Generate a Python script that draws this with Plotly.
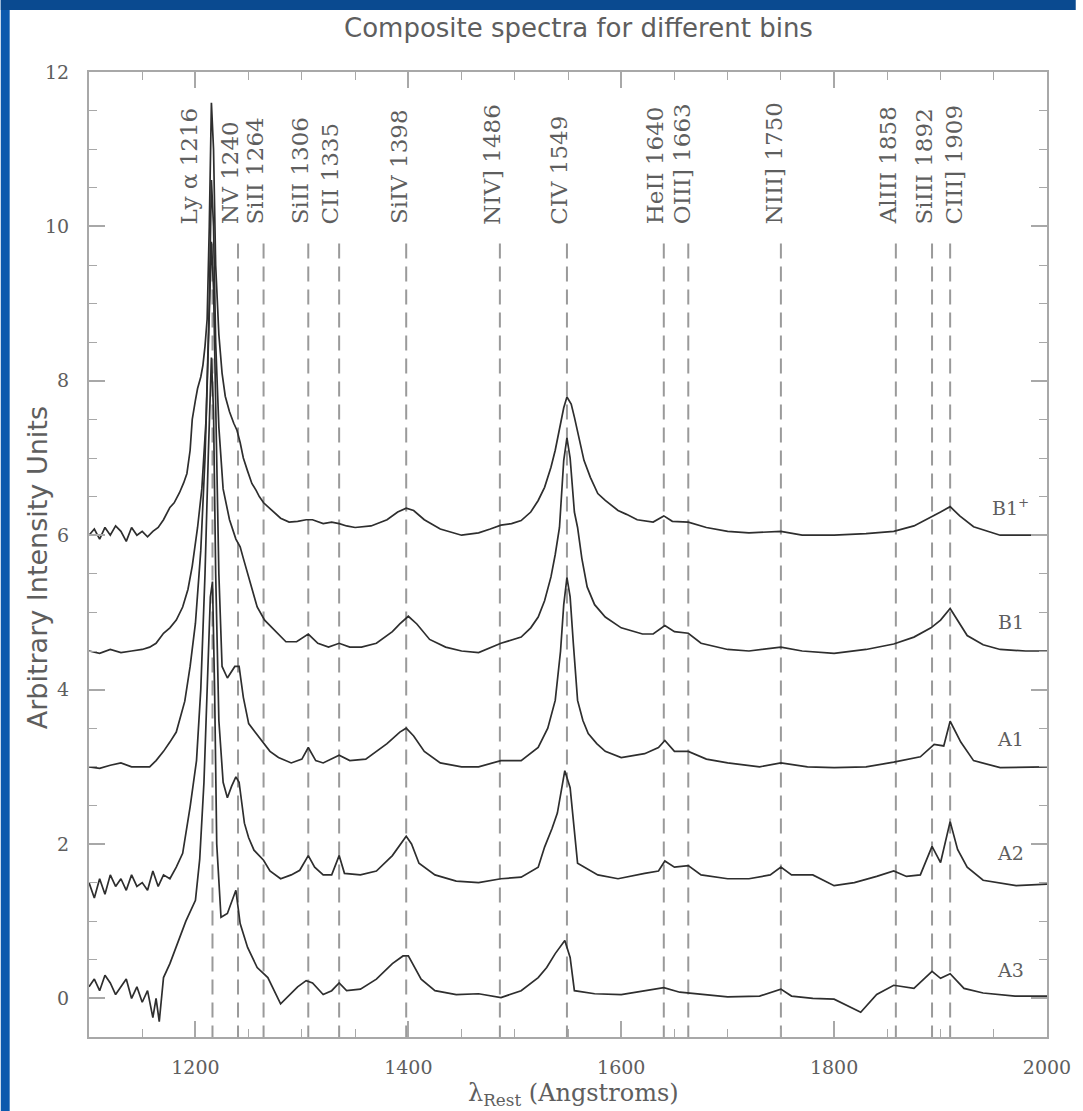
import plotly.graph_objects as go

# ---------------- data ----------------
# wavelength / intensity samples for each composite spectrum
b1p_wl = [1100,1105,1110,1115,1120,1125,1130,1135,1140,1145,1150,1155,1160,1165,1170,1176,1180,1185,1189,1192,1195,1197,1200,1202,1205,1207,1209,1211,1213,1215,1217,1219,1222,1225,1228,1232,1236,1239,1242,1245,1249,1253,1257,1260,1264,1269,1274,1280,1288,1296,1304,1310,1320,1328,1335,1342,1350,1365,1380,1390,1398,1405,1415,1430,1450,1466,1477,1487,1497,1506,1515,1522,1528,1534,1538,1542,1546,1549,1553,1556,1560,1565,1571,1578,1585,1590,1597,1605,1615,1630,1640,1648,1663,1680,1700,1720,1750,1770,1800,1830,1856,1875,1891,1900,1909,1918,1931,1945,1956,1980,2000]
b1p_v  = [6.0,6.08,5.95,6.1,6.0,6.12,6.05,5.92,6.1,6.0,6.05,5.98,6.05,6.1,6.2,6.36,6.42,6.55,6.68,6.8,7.1,7.5,7.75,7.9,8.05,8.2,8.45,8.8,10.0,11.6,11.0,9.5,8.6,8.1,7.8,7.6,7.45,7.36,7.2,7.0,6.83,6.67,6.58,6.5,6.42,6.36,6.3,6.22,6.17,6.18,6.2,6.2,6.15,6.17,6.15,6.12,6.1,6.12,6.2,6.3,6.35,6.32,6.2,6.08,6.0,6.03,6.08,6.13,6.15,6.19,6.3,6.45,6.62,6.88,7.1,7.4,7.65,7.79,7.7,7.53,7.3,6.97,6.75,6.54,6.45,6.4,6.32,6.27,6.2,6.17,6.25,6.18,6.17,6.1,6.05,6.03,6.05,6.0,6.0,6.02,6.05,6.12,6.23,6.3,6.37,6.25,6.11,6.05,6.0,6.0,6.0]

b1_wl = [1100,1110,1120,1130,1140,1150,1157,1163,1170,1176,1182,1188,1193,1197,1202,1206,1210,1213,1215,1217,1219,1222,1226,1232,1238,1242,1245,1249,1253,1258,1265,1274,1285,1295,1306,1315,1325,1335,1345,1356,1370,1385,1392,1400,1408,1420,1435,1450,1466,1487,1506,1515,1522,1528,1534,1538,1542,1546,1549,1552,1556,1559,1563,1568,1575,1585,1600,1620,1630,1641,1650,1663,1675,1700,1720,1750,1770,1800,1830,1856,1875,1891,1900,1909,1917,1925,1940,1956,1980,2000]
b1_v  = [4.5,4.47,4.52,4.48,4.5,4.52,4.55,4.6,4.73,4.8,4.9,5.07,5.3,5.6,6.1,6.6,7.5,9.0,10.6,10.0,8.5,7.4,6.6,6.2,5.95,5.85,5.7,5.5,5.3,5.07,4.9,4.77,4.62,4.62,4.72,4.6,4.55,4.6,4.55,4.55,4.6,4.75,4.85,4.95,4.85,4.65,4.55,4.5,4.48,4.6,4.68,4.8,4.94,5.15,5.46,5.75,6.1,6.97,7.26,7.0,6.3,6.1,5.7,5.33,5.1,4.94,4.8,4.72,4.72,4.83,4.75,4.73,4.6,4.52,4.5,4.55,4.5,4.47,4.52,4.59,4.68,4.8,4.9,5.05,4.88,4.7,4.58,4.52,4.5,4.5]

a1_wl = [1100,1110,1120,1130,1140,1150,1157,1163,1170,1176,1182,1190,1195,1200,1205,1209,1212,1215,1217,1219,1222,1225,1230,1237,1241,1245,1250,1256,1262,1270,1278,1290,1300,1306,1313,1320,1335,1345,1360,1380,1392,1398,1405,1415,1430,1450,1466,1487,1506,1522,1531,1538,1543,1546,1549,1552,1555,1559,1564,1569,1577,1585,1600,1622,1635,1641,1650,1663,1680,1700,1730,1750,1775,1800,1830,1856,1881,1894,1903,1909,1919,1931,1956,2000]
a1_v  = [3.0,2.98,3.02,3.05,3.0,3.0,3.0,3.08,3.2,3.32,3.45,3.85,4.3,4.86,5.8,7.0,8.5,9.8,9.2,7.5,5.5,4.3,4.15,4.3,4.3,3.9,3.56,3.45,3.34,3.2,3.12,3.05,3.1,3.25,3.08,3.05,3.15,3.08,3.1,3.3,3.45,3.5,3.4,3.2,3.05,3.0,3.0,3.08,3.08,3.25,3.5,3.86,4.5,5.1,5.45,5.2,4.6,3.86,3.6,3.43,3.3,3.2,3.12,3.17,3.25,3.34,3.2,3.2,3.1,3.05,3.0,3.05,3.0,2.99,3.0,3.06,3.13,3.29,3.27,3.59,3.32,3.08,2.99,3.0]

a2_wl = [1100,1105,1110,1115,1120,1125,1130,1135,1140,1145,1150,1155,1160,1165,1170,1176,1182,1188,1195,1201,1205,1209,1212,1215,1217,1219,1222,1226,1230,1234,1238,1241,1246,1250,1255,1264,1270,1280,1290,1298,1306,1312,1320,1328,1335,1340,1355,1370,1385,1393,1398,1403,1410,1425,1445,1466,1487,1506,1522,1528,1535,1540,1547,1552,1556,1559,1578,1597,1622,1635,1641,1650,1663,1675,1700,1720,1740,1750,1760,1780,1800,1819,1840,1856,1868,1881,1892,1900,1909,1916,1925,1940,1971,2000]
a2_v  = [1.5,1.3,1.55,1.35,1.6,1.45,1.55,1.4,1.6,1.45,1.5,1.4,1.65,1.45,1.6,1.55,1.7,1.88,2.48,3.08,4.0,5.5,7.0,8.3,7.6,5.5,3.6,2.8,2.6,2.75,2.87,2.8,2.27,2.08,1.92,1.79,1.65,1.55,1.6,1.66,1.85,1.7,1.6,1.6,1.85,1.62,1.6,1.65,1.85,2.0,2.1,2.0,1.75,1.6,1.52,1.5,1.55,1.57,1.7,1.96,2.2,2.4,2.95,2.73,2.14,1.75,1.6,1.55,1.62,1.65,1.78,1.7,1.72,1.6,1.55,1.55,1.6,1.7,1.6,1.6,1.46,1.5,1.58,1.65,1.58,1.6,1.97,1.76,2.29,1.93,1.7,1.53,1.46,1.48]

a3_wl = [1100,1105,1110,1115,1120,1125,1130,1135,1140,1145,1150,1155,1160,1163,1166,1170,1176,1182,1191,1200,1204,1208,1211,1214,1216,1218,1220,1224,1230,1238,1242,1249,1258,1268,1280,1289,1296,1304,1310,1320,1328,1335,1342,1355,1370,1385,1395,1400,1404,1412,1425,1445,1466,1487,1506,1522,1530,1538,1547,1552,1556,1575,1600,1622,1640,1655,1680,1700,1730,1750,1760,1780,1800,1825,1840,1856,1875,1892,1900,1909,1922,1940,1970,2000]
a3_v  = [0.15,0.25,0.1,0.3,0.2,0.05,0.15,0.25,0.0,0.15,-0.05,0.1,-0.25,0.0,-0.3,0.27,0.45,0.66,1.0,1.27,1.8,2.8,3.9,5.2,5.4,4.0,2.0,1.05,1.1,1.4,0.97,0.66,0.4,0.27,-0.07,0.06,0.15,0.23,0.2,0.05,0.1,0.2,0.1,0.12,0.25,0.45,0.55,0.55,0.45,0.25,0.1,0.05,0.06,0.01,0.1,0.27,0.4,0.58,0.75,0.53,0.1,0.06,0.05,0.1,0.14,0.08,0.05,0.02,0.03,0.12,0.03,0.0,-0.01,-0.18,0.05,0.17,0.13,0.35,0.26,0.32,0.13,0.07,0.03,0.03]

# emission-line identifications
line_names = ["Ly α 1216", "NV 1240", "SiII 1264", "SiII 1306", "CII 1335", "SiIV 1398",
              "NIV] 1486", "CIV 1549", "HeII 1640", "OIII] 1663", "NIII] 1750",
              "AlIII 1858", "SiIII 1892", "CIII] 1909"]
line_wl = [1216, 1240, 1264, 1306, 1335, 1398, 1486, 1549, 1640, 1663, 1750, 1858, 1892, 1909]

bin_names = ["B1<sup>+</sup>", "B1", "A1", "A2", "A3"]
bin_label_y = [6.37, 4.87, 3.36, 1.88, 0.37]

# ---------------- styling ----------------
label_shift = [-24, -8, -9, -8, -9, -7, -8, -8, -8, -6, -6, -7, -8, 4]
gray_txt = "#5e5e5e"
line_col = "#2e2e2e"
frame_col = "#a8a8a8"

fig = go.Figure()
series = [(b1p_wl, b1p_v), (b1_wl, b1_v), (a1_wl, a1_v), (a2_wl, a2_v), (a3_wl, a3_v)]
for (wl, v), name in zip(series, bin_names):
    fig.add_trace(go.Scatter(x=wl, y=v, mode="lines", name=name,
                             line=dict(color=line_col, width=1.7), showlegend=False))

y_bottom = -0.5
shapes = []
for wl in line_wl:
    shapes.append(dict(type="line", xref="x", yref="y", x0=wl, x1=wl, y0=9.78, y1=y_bottom,
                       line=dict(color="#9a9a9a", width=2, dash="15px,8px"), layer="below"))

# blue slide border
shapes.append(dict(type="rect", xref="paper", yref="paper", x0=-0.0921, x1=-0.0828,
                   y0=-0.08, y1=1.0746, fillcolor="#0b59ad", line=dict(width=0), layer="above"))
shapes.append(dict(type="rect", xref="paper", yref="paper", x0=-0.0921, x1=1.03,
                   y0=1.0642, y1=1.0746, fillcolor="#0a4a90", line=dict(width=0), layer="above"))

annotations = []
for name, wl, sh in zip(line_names, line_wl, label_shift):
    annotations.append(dict(x=wl, y=10.0, xref="x", yref="y", text=name, textangle=-90,
                            showarrow=False, xanchor="center", yanchor="bottom", xshift=sh,
                            font=dict(family="DejaVu Serif", size=23, color=gray_txt)))
for name, yv in zip(bin_names, bin_label_y):
    annotations.append(dict(x=1966, y=yv, xref="x", yref="y", text=name, showarrow=False,
                            xanchor="center", yanchor="middle",
                            font=dict(family="DejaVu Serif", size=19, color=gray_txt)))

annotations.append(dict(x=0.511, y=1.0456, xref="paper", yref="paper",
                        text="Composite spectra for different bins", showarrow=False,
                        xanchor="center", yanchor="middle",
                        font=dict(family="DejaVu Sans", size=26, color=gray_txt)))
annotations.append(dict(x=-0.054, y=0.486, xref="paper", yref="paper",
                        text="Arbitrary Intensity Units", showarrow=False, textangle=-90,
                        xanchor="center", yanchor="middle",
                        font=dict(family="DejaVu Sans", size=27, color=gray_txt)))
annotations.append(dict(x=0.506, y=-0.060, xref="paper", yref="paper",
                        text="λ<sub>Rest</sub> (Angstroms)", showarrow=False,
                        xanchor="center", yanchor="middle",
                        font=dict(family="DejaVu Serif", size=24, color=gray_txt)))

axis_common = dict(showline=True, linecolor=frame_col, linewidth=2, mirror="allticks",
                   ticks="inside", ticklen=16, tickwidth=1.5, tickcolor=frame_col,
                   showgrid=False, zeroline=False,
                   tickfont=dict(family="DejaVu Serif", size=19, color=gray_txt))

fig.update_layout(
    width=1083, height=1111,
    margin=dict(l=89, r=28, t=72, b=74),
    paper_bgcolor="white", plot_bgcolor="white",
    shapes=shapes, annotations=annotations,
    xaxis=dict(range=[1100, 2000], tick0=1200, dtick=200,
               minor=dict(dtick=50, tick0=1100, ticks="inside", ticklen=8, tickcolor=frame_col, tickwidth=1.2),
               ticklabelstandoff=12, **axis_common),
    yaxis=dict(range=[y_bottom, 12], tick0=0, dtick=2,
               minor=dict(dtick=0.5, tick0=0, ticks="inside", ticklen=8, tickcolor=frame_col, tickwidth=1.2),
               ticklabelstandoff=14, **axis_common),
)

fig.write_html("out.html")
